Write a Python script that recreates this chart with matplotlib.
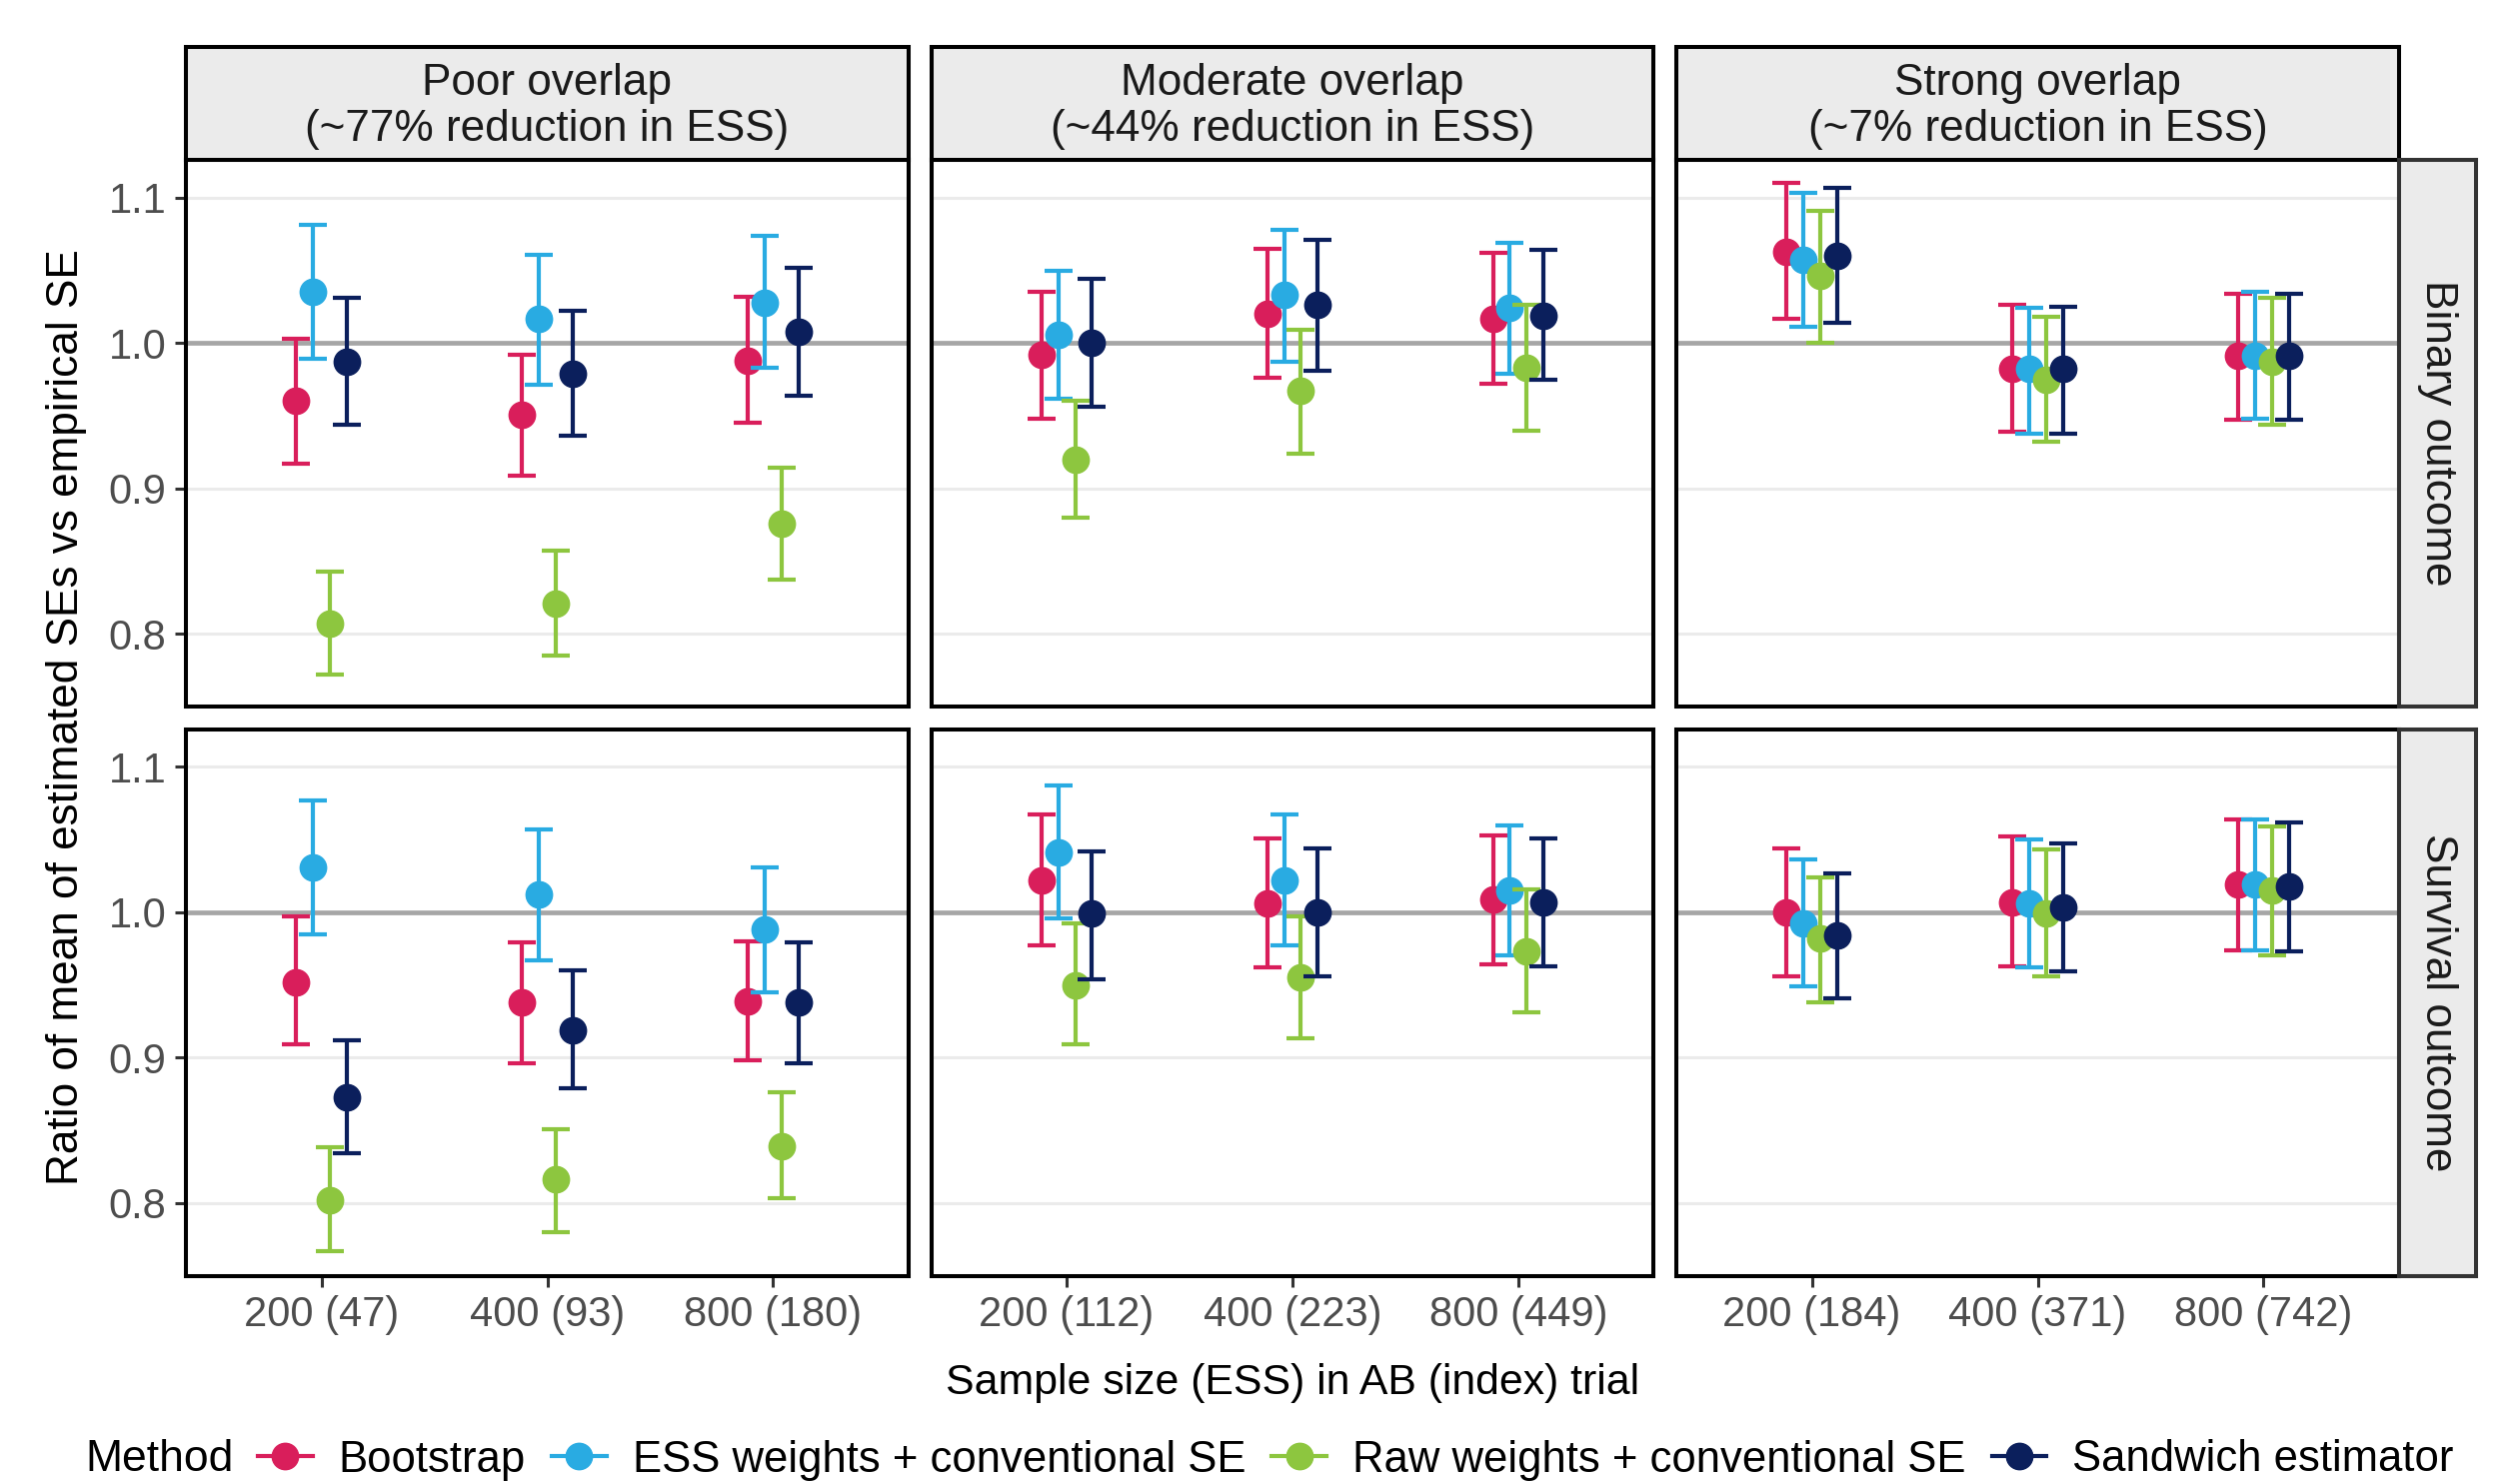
import numpy as np
import matplotlib.pyplot as plt
from matplotlib.lines import Line2D

plt.rcParams['font.family'] = ['Liberation Sans', 'DejaVu Sans']

methods = ["Bootstrap", "ESS weights + conventional SE",
           "Raw weights + conventional SE", "Sandwich estimator"]
colors = ['#D91E5B', '#29ABE2', '#8DC63F', '#0B1F5C']

overlaps = ["Poor overlap\n(~77% reduction in ESS)",
            "Moderate overlap\n(~44% reduction in ESS)",
            "Strong overlap\n(~7% reduction in ESS)"]
outcomes = ["Binary outcome", "Survival outcome"]

size_labels = [["200 (47)", "400 (93)", "800 (180)"],
               ["200 (112)", "400 (223)", "800 (449)"],
               ["200 (184)", "400 (371)", "800 (742)"]]

# rows = methods (Bootstrap, ESS, Raw, Sandwich), cols = sample size 200/400/800
bin_poor_mid = [[0.960, 0.951, 0.988], [1.035, 1.017, 1.028], [0.807, 0.821, 0.876], [0.987, 0.979, 1.008]]
bin_poor_lo = [[0.917, 0.909, 0.945], [0.989, 0.971, 0.983], [0.772, 0.785, 0.837], [0.944, 0.936, 0.964]]
bin_poor_hi = [[1.003, 0.992, 1.032], [1.081, 1.061, 1.074], [0.843, 0.857, 0.914], [1.031, 1.022, 1.052]]

bin_mod_mid = [[0.992, 1.020, 1.017], [1.006, 1.033, 1.024], [0.920, 0.967, 0.983], [1.000, 1.026, 1.019]]
bin_mod_lo = [[0.948, 0.976, 0.972], [0.962, 0.987, 0.979], [0.880, 0.924, 0.940], [0.956, 0.981, 0.975]]
bin_mod_hi = [[1.035, 1.065, 1.062], [1.050, 1.078, 1.069], [0.960, 1.009, 1.026], [1.044, 1.071, 1.064]]

bin_strong_mid = [[1.063, 0.982, 0.991], [1.057, 0.982, 0.991], [1.046, 0.975, 0.987], [1.060, 0.982, 0.991]]
bin_strong_lo = [[1.017, 0.939, 0.947], [1.011, 0.938, 0.948], [1.000, 0.932, 0.944], [1.014, 0.938, 0.947]]
bin_strong_hi = [[1.110, 1.026, 1.034], [1.103, 1.024, 1.035], [1.091, 1.018, 1.031], [1.107, 1.025, 1.034]]

surv_poor_mid = [[0.952, 0.938, 0.939], [1.031, 1.012, 0.988], [0.802, 0.816, 0.839], [0.873, 0.919, 0.938]]
surv_poor_lo = [[0.909, 0.896, 0.898], [0.985, 0.967, 0.945], [0.767, 0.780, 0.803], [0.834, 0.879, 0.896]]
surv_poor_hi = [[0.997, 0.979, 0.980], [1.077, 1.057, 1.031], [0.838, 0.851, 0.876], [0.912, 0.960, 0.979]]

surv_mod_mid = [[1.022, 1.006, 1.009], [1.041, 1.022, 1.015], [0.950, 0.955, 0.973], [0.999, 1.000, 1.007]]
surv_mod_lo = [[0.977, 0.962, 0.964], [0.996, 0.977, 0.970], [0.909, 0.913, 0.931], [0.954, 0.956, 0.963]]
surv_mod_hi = [[1.067, 1.051, 1.053], [1.087, 1.067, 1.060], [0.992, 0.997, 1.016], [1.042, 1.044, 1.051]]

surv_strong_mid = [[1.000, 1.007, 1.019], [0.992, 1.006, 1.019], [0.982, 0.999, 1.015], [0.984, 1.003, 1.018]]
surv_strong_lo = [[0.956, 0.963, 0.974], [0.949, 0.962, 0.974], [0.938, 0.956, 0.970], [0.941, 0.959, 0.973]]
surv_strong_hi = [[1.044, 1.052, 1.064], [1.036, 1.050, 1.064], [1.024, 1.043, 1.059], [1.027, 1.047, 1.062]]

panels = [[(bin_poor_mid, bin_poor_lo, bin_poor_hi),
           (bin_mod_mid, bin_mod_lo, bin_mod_hi),
           (bin_strong_mid, bin_strong_lo, bin_strong_hi)],
          [(surv_poor_mid, surv_poor_lo, surv_poor_hi),
           (surv_mod_mid, surv_mod_lo, surv_mod_hi),
           (surv_strong_mid, surv_strong_lo, surv_strong_hi)]]

W, H = 2514, 1485
fig = plt.figure(figsize=(W / 100, H / 100), dpi=100)


def box(x0, y0, w, h):
    return [x0 / W, 1 - (y0 + h) / H, w / W, h / H]


col_left = [186, 931.5, 1677]
row_top = [160, 729.5]
pw, ph = 723, 547
fs_tick = 30
fs_strip = 31.8
fs_title = 30.8
fs_leg = 31.4
dodge = [-0.1125, -0.0375, 0.0375, 0.1125]
xpos = np.array([1, 2, 3])

for r in range(2):
    for c in range(3):
        ax = fig.add_axes(box(col_left[c], row_top[r], pw, ph))
        mid, lo, hi = panels[r][c]
        for ygrid in [0.8, 0.9, 1.1]:
            ax.axhline(ygrid, color='#EBEBEB', lw=2.2, zorder=0)
        ax.axhline(1.0, color='#A6A6A6', lw=3.4, zorder=1)
        for m in range(4):
            y = np.array(mid[m])
            err = [y - np.array(lo[m]), np.array(hi[m]) - y]
            ax.errorbar(xpos + dodge[m], y, yerr=err, fmt='o', color=colors[m],
                        ms=19, elinewidth=3, capsize=10, capthick=3, zorder=3 + m)
        ax.set_xlim(0.4, 3.6)
        ax.set_ylim(0.75, 1.126)
        ax.set_yticks([0.8, 0.9, 1.0, 1.1])
        ax.set_xticks(xpos)
        for s in ax.spines.values():
            s.set_linewidth(2.9)
            s.set_color('black')
        ax.tick_params(length=8, width=2.2, color='#333333', labelsize=fs_tick,
                       labelcolor='#4D4D4D', pad=6)
        if c == 0:
            ax.set_yticklabels(["0.8", "0.9", "1.0", "1.1"])
        else:
            ax.tick_params(axis='y', length=0, labelleft=False)
        if r == 1:
            ax.set_xticklabels(size_labels[c])
        else:
            ax.tick_params(axis='x', length=0, labelbottom=False)

# top strips
for c in range(3):
    sa = fig.add_axes(box(col_left[c], 46.5, pw, 113.5))
    sa.set_facecolor('#EBEBEB')
    sa.set_xticks([])
    sa.set_yticks([])
    for s in sa.spines.values():
        s.set_linewidth(2.9)
        s.set_color('black')
    sa.text(0.5, 0.47, overlaps[c], ha='center', va='center', fontsize=fs_strip,
            color='#1A1A1A', linespacing=1.15, transform=sa.transAxes)

# right strips
for r in range(2):
    sa = fig.add_axes(box(2400, row_top[r], 77, ph))
    sa.set_facecolor('#EBEBEB')
    sa.set_xticks([])
    sa.set_yticks([])
    for s in sa.spines.values():
        s.set_linewidth(2.9)
        s.set_color('#333333')
    sa.text(0.5, 0.5, outcomes[r], ha='center', va='center', fontsize=fs_strip,
            color='#1A1A1A', rotation=-90, transform=sa.transAxes)

fig.text(67 / W, 1 - 718 / H, "Ratio of mean of estimated SEs vs empirical SE",
         rotation=90, ha='center', va='center', fontsize=fs_title + 1)
fig.text(1293 / W, 1 - 1384 / H, "Sample size (ESS) in AB (index) trial",
         ha='center', va='center', fontsize=fs_title)

# legend
fig.text(85 / W, 1 - 1461 / H, "Method", ha='left', va='center', fontsize=fs_leg + 0.6)
handles = [Line2D([0], [0], color=col, marker='o', ms=19, lw=3) for col in colors]
fig.legend(handles, methods, loc='center left', bbox_to_anchor=(258 / W, 1 - 1461 / H),
           ncol=4, frameon=False, fontsize=fs_leg, handlelength=1.25, handletextpad=0.6,
           columnspacing=0.6, borderpad=0, borderaxespad=0)

fig.savefig("out.png", dpi=100)
